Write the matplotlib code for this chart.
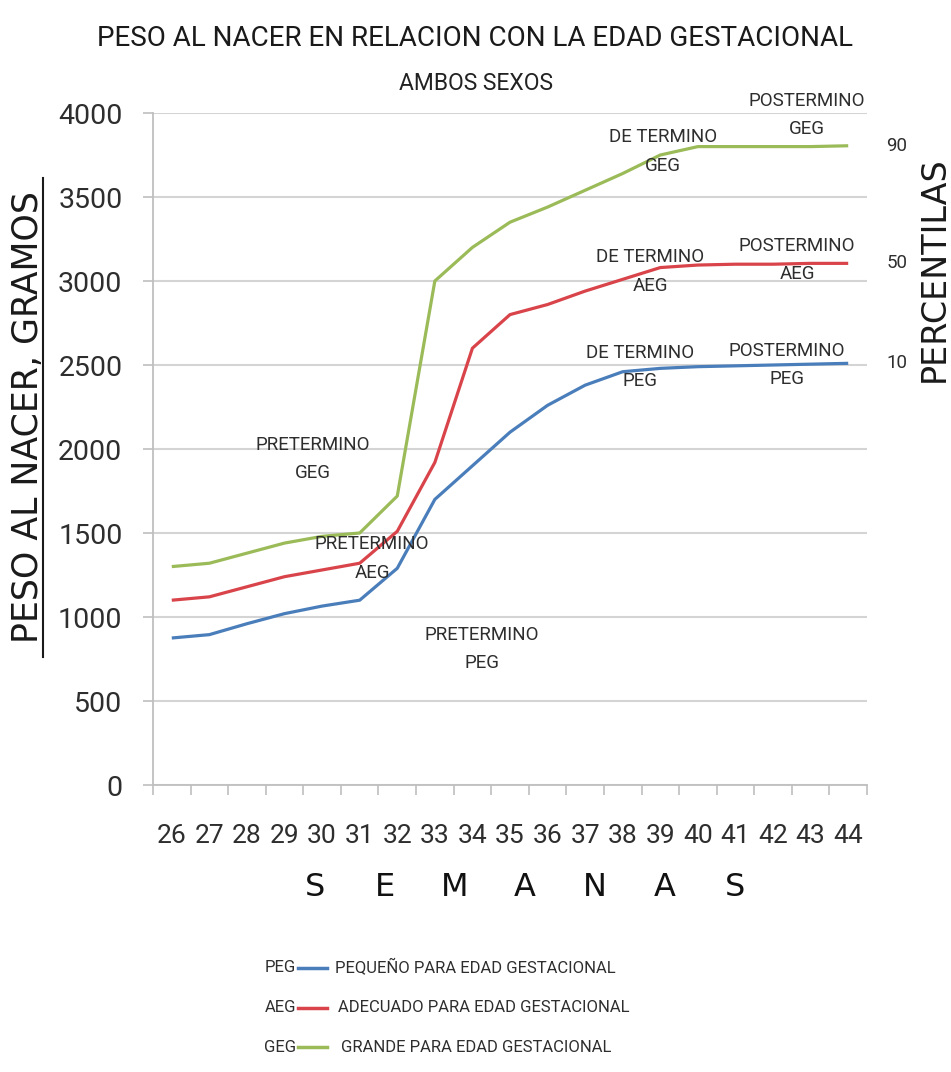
import numpy as np
import matplotlib
matplotlib.use("Agg")
import matplotlib.pyplot as plt
from matplotlib.lines import Line2D

# semanas de gestacion y pesos (gramos) por percentil
semanas = [26, 27, 28, 29, 30, 31, 32, 33, 34, 35, 36, 37, 38, 39, 40, 41, 42, 43, 44]
peg = [875, 895, 960, 1020, 1065, 1100, 1290, 1700, 1900, 2100, 2260, 2380, 2460, 2480, 2490, 2495, 2500, 2505, 2510]
aeg = [1100, 1120, 1180, 1240, 1280, 1320, 1510, 1920, 2600, 2800, 2860, 2940, 3010, 3080, 3095, 3100, 3100, 3105, 3105]
geg = [1300, 1320, 1380, 1440, 1480, 1500, 1720, 3000, 3200, 3350, 3440, 3540, 3640, 3750, 3800, 3800, 3800, 3800, 3805]
percentiles = ["10", "50", "90"]

series_names = ["PEG", "AEG", "GEG"]
series_desc = ["PEQUEÑO PARA EDAD GESTACIONAL",
               "ADECUADO PARA EDAD GESTACIONAL",
               "GRANDE PARA EDAD GESTACIONAL"]
colors = ["#4a7ebb", "#d9444a", "#9bbb59"]

# etiquetas dentro del grafico (texto, x, y en datos)
notas = [
    ("POSTERMINO\nGEG", 42.9, 3988),
    ("DE TERMINO\nGEG", 39.07, 3771),
    ("DE TERMINO\nAEG", 38.73, 3057),
    ("POSTERMINO\nAEG", 42.64, 3125),
    ("DE TERMINO\nPEG", 38.46, 2488),
    ("POSTERMINO\nPEG", 42.37, 2500),
    ("PRETERMINO\nGEG", 29.76, 1940),
    ("PRETERMINO\nAEG", 31.33, 1348),
    ("PRETERMINO\nPEG", 34.25, 810),
]

NARROW = ["Roboto", "DejaVu Sans"]
TXT = "#2e2e2e"

W, H = 951, 1072
fig = plt.figure(figsize=(W / 100, H / 100), dpi=100)

def fx(px):
    return px / W

def fy(py):
    return 1 - py / H

ax = fig.add_axes([fx(153), fy(785), (867 - 153) / W, (785 - 113) / H])

for vals, c in zip([peg, aeg, geg], colors):
    ax.plot(semanas, vals, color=c, lw=2.3, solid_capstyle="butt", zorder=3)

ax.set_xlim(25.5, 44.5)
ax.set_ylim(0, 4000)
ax.set_yticks(np.arange(0, 4001, 500))
ax.set_xticks(semanas)
ax.set_xticks(np.arange(25.5, 45, 1), minor=True)
ax.grid(axis="y", color="#d4d4d4", lw=1.5, zorder=0)
ax.set_axisbelow(True)

for s in ["top", "right"]:
    ax.spines[s].set_visible(False)
for s in ["left", "bottom"]:
    ax.spines[s].set_color("#bfbfbf")
    ax.spines[s].set_linewidth(1.3)

ax.tick_params(axis="x", which="major", length=0, pad=28, labelsize=19, labelcolor=TXT)
ax.tick_params(axis="x", which="minor", length=7, color="#bfbfbf", width=1.2)
ax.tick_params(axis="y", length=7, color="#bfbfbf", width=1.2, pad=15, labelsize=20.5, labelcolor=TXT)
for lab in ax.get_xticklabels() + ax.get_yticklabels():
    lab.set_family(NARROW)

for txt, x, y in notas:
    ax.text(x, y, txt, ha="center", va="center", fontsize=13.5, color=TXT,
            family=NARROW, linespacing=1.75, zorder=4)

# percentiles al final de cada curva
for p, vals in zip(percentiles, [peg, aeg, geg]):
    ax.text(45.3, vals[-1], p, ha="center", va="center", fontsize=13.5,
            color=TXT, family=NARROW, clip_on=False)

# titulos
fig.text(fx(475), fy(38), "PESO AL NACER EN RELACION CON LA EDAD GESTACIONAL",
         ha="center", va="center", fontsize=20, color="#1a1a1a", family=NARROW)
fig.text(fx(476), fy(83), "AMBOS SEXOS", ha="center", va="center",
         fontsize=16.5, color="#222222", family=NARROW)

fig.text(fx(28), fy(417), "PESO AL NACER, GRAMOS", rotation=90, ha="center",
         va="center", fontsize=25, color="#1a1a1a")
fig.add_artist(Line2D([fx(43), fx(43)], [fy(178), fy(657)], color="#1a1a1a", lw=1.5))

fig.text(fx(944), fy(269), "PERCENTILAS", rotation=90, rotation_mode="anchor",
         ha="center", va="baseline", fontsize=24, color="#1a1a1a")

for i, ch in enumerate("SEMANAS"):
    fig.text(fx(525 + (i - 3) * 70), fy(888), ch, ha="center", va="center",
             fontsize=23, color="#111111")

# leyenda manual
rows_y = [968, 1008, 1047]
desc_x = [335, 338, 341]
for name, desc, c, py, dx in zip(series_names, series_desc, colors, rows_y, desc_x):
    fig.text(fx(296), fy(py), name, ha="right", va="center", fontsize=12,
             color=TXT, family=NARROW)
    fig.add_artist(Line2D([fx(298), fx(327)], [fy(py), fy(py)], color=c, lw=2.5))
    fig.text(fx(dx), fy(py), desc, ha="left", va="center", fontsize=12,
             color=TXT, family=NARROW)

fig.savefig("out.png", dpi=100, facecolor="white")
